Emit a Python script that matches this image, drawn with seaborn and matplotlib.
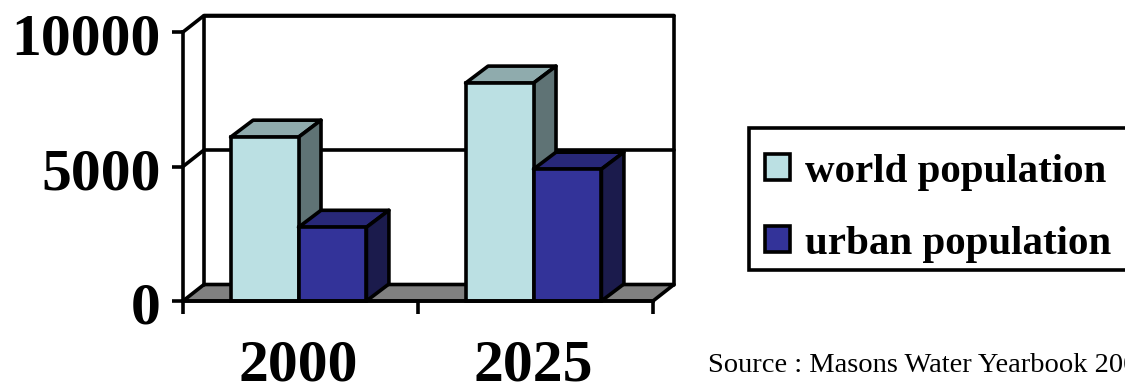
import matplotlib
matplotlib.use("Agg")
import matplotlib.pyplot as plt
import pandas as pd
import seaborn as sns
from matplotlib.lines import Line2D
from matplotlib.patches import Patch, Polygon, Rectangle
from matplotlib.transforms import Affine2D, IdentityTransform

# Population figures (millions)
years = ["2000", "2025"]
world_population = [6090, 8100]
urban_population = [2740, 4900]
series_names = ["world population", "urban population"]
y_ticks = [0, 5000, 10000]
source_text = "Source : Masons Water Yearbook 2000"

FRONT = ["#BBE0E3", "#333399"]
TOP = ["#8FABAD", "#282878"]
SIDE = ["#5F7375", "#1B1B4C"]
FLOOR = "#808080"
LW = 2.6
WALL_DX, WALL_DY = 21, 16.5   # depth of the plot box, pixels
BAR_DX, BAR_DY = 22.5, 17     # depth of each column, pixels
X_MIN, X_MAX = -0.4915, 1.5085

W, H = 1125, 385
sns.set_theme(style="white")
plt.rcParams["font.family"] = ["Liberation Serif", "DejaVu Serif"]

fig = plt.figure(figsize=(W / 100, H / 100), dpi=100, facecolor="white")
ax = fig.add_axes([183 / W, (H - 301) / H, 470 / W, 269 / H])
ax.patch.set_alpha(0)

df = pd.DataFrame({
    "year": years * 2,
    "series": [series_names[0]] * 2 + [series_names[1]] * 2,
    "value": world_population + urban_population,
})
sns.barplot(data=df, x="year", y="value", hue="series", order=years,
            hue_order=series_names, palette=FRONT, width=0.578, gap=0,
            saturation=1, edgecolor="black", linewidth=LW, legend=False, ax=ax)
ax.set_xlim(X_MIN, X_MAX)
ax.set_ylim(0, 10000)
ax.set_xlabel("")
ax.set_ylabel("")

# The bars seaborn drew, left to right: world, urban, world, urban
bars = sorted([p for p in ax.patches if isinstance(p, Rectangle) and p.get_height() > 0],
              key=lambda p: p.get_x())


def to_px(x, y):
    return ax.transData.transform((x, y))


def add_poly(points, face, z):
    ax.add_patch(Polygon(points, closed=True, transform=IdentityTransform(),
                         facecolor=face, edgecolor="black", linewidth=LW,
                         joinstyle="round", clip_on=False, zorder=z))


def add_line(points, z=1.5):
    xs, ys = zip(*points)
    ax.add_line(Line2D(xs, ys, transform=IdentityTransform(), color="black",
                       linewidth=LW, clip_on=False, zorder=z,
                       solid_capstyle="round"))


def shifted(p, dx, dy):
    return (p[0] + dx, p[1] + dy)


# Floor and back walls of the box
y_max = y_ticks[-1]
fl, fr = to_px(X_MIN, 0), to_px(X_MAX, 0)
add_poly([fl, fr, shifted(fr, WALL_DX, WALL_DY), shifted(fl, WALL_DX, WALL_DY)], FLOOR, 1.2)
tl, tr = to_px(X_MIN, y_max), to_px(X_MAX, y_max)
add_line([shifted(fl, WALL_DX, WALL_DY), shifted(tl, WALL_DX, WALL_DY),
          shifted(tr, WALL_DX, WALL_DY), shifted(fr, WALL_DX, WALL_DY)])
for tick in y_ticks[1:]:
    left, right = to_px(X_MIN, tick), to_px(X_MAX, tick)
    add_line([left, shifted(left, WALL_DX, WALL_DY), shifted(right, WALL_DX, WALL_DY)])

# Top and side faces of every column
for i, bar in enumerate(bars):
    kind = i % 2
    a = to_px(bar.get_x(), bar.get_height())
    b = to_px(bar.get_x() + bar.get_width(), bar.get_height())
    c = to_px(bar.get_x() + bar.get_width(), 0)
    z = 3 + 2 * i
    add_poly([a, b, shifted(b, BAR_DX, BAR_DY), shifted(a, BAR_DX, BAR_DY)], TOP[kind], z)
    add_poly([b, c, shifted(c, BAR_DX, BAR_DY), shifted(b, BAR_DX, BAR_DY)], SIDE[kind], z)
    bar.set_zorder(z + 1)
    bar.set_clip_on(False)

# Axes, ticks and labels
sns.despine(ax=ax, top=True, right=True)
for side in ("left", "bottom"):
    ax.spines[side].set_linewidth(LW)
    ax.spines[side].set_color("black")
    ax.spines[side].set_zorder(20)
ax.set_yticks(y_ticks)
ax.set_yticklabels([str(t) for t in y_ticks], fontsize=43, fontweight="bold",
                   color="black", va="center_baseline")
ax.tick_params(axis="y", which="major", length=8, width=LW, color="black", pad=8, left=True)
for label in ax.get_yticklabels():
    label.set_transform(label.get_transform() + Affine2D().translate(0, -2))
ax.set_xticks(range(len(years)))
ax.set_xticklabels(years, fontsize=43, fontweight="bold", color="black")
ax.tick_params(axis="x", which="major", length=0, pad=28, bottom=False)
ax.set_xticks([X_MIN, X_MIN + 1, X_MAX], minor=True)
ax.tick_params(axis="x", which="minor", length=9, width=LW, color="black", bottom=True)

# Legend box, framed separately so the rows can sit lower inside it
fig.add_artist(Rectangle((749 / W, (H - 270) / H), 400 / W, 142.5 / H, transform=fig.transFigure,
                         facecolor="white", edgecolor="black", linewidth=LW, zorder=1))
handles = [Patch(facecolor=FRONT[i], edgecolor="black", linewidth=LW, label=series_names[i])
           for i in range(2)]
leg = fig.legend(handles=handles, loc="upper left",
                 bbox_to_anchor=(749 / W, (H - 137.5) / H), bbox_transform=fig.transFigure,
                 prop={"family": "Liberation Serif", "weight": "bold", "size": 29.5},
                 frameon=False, handlelength=0.6, handleheight=0.6, handletextpad=0.37,
                 labelspacing=0.85, borderpad=0.4, borderaxespad=0, labelcolor="black")
leg.set_zorder(2)

fig.text(708 / W, (H - 372) / H, source_text, fontsize=20.5, color="black",
         family="Liberation Serif", va="baseline", ha="left")

fig.savefig("out.png", dpi=100, facecolor="white")
